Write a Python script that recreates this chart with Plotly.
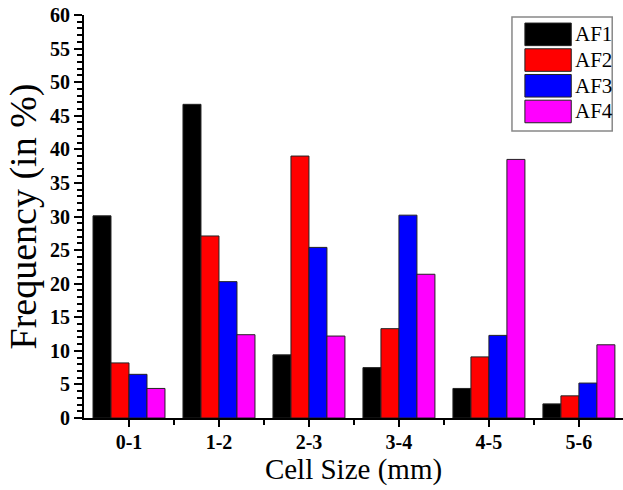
import plotly.graph_objects as go

categories = ["0-1", "1-2", "2-3", "3-4", "4-5", "5-6"]
series_names = ["AF1", "AF2", "AF3", "AF4"]
af1 = [30.1, 46.7, 9.4, 7.5, 4.4, 2.1]
af2 = [8.2, 27.1, 39.0, 13.3, 9.1, 3.3]
af3 = [6.5, 20.3, 25.4, 30.2, 12.3, 5.2]
af4 = [4.4, 12.4, 12.2, 21.4, 38.5, 10.9]
colors = ["#000000", "#ff0000", "#0000ff", "#ff00ff"]
y_ticks = list(range(0, 61, 5))

xpos = list(range(len(categories)))
fig = go.Figure()
for name, vals, col in zip(series_names, [af1, af2, af3, af4], colors):
    fig.add_trace(go.Bar(x=xpos, y=vals, name=name, marker=dict(color=col, line=dict(color="#222222", width=1)),
                         showlegend=False))

font_family = "Liberation Serif, Times New Roman, serif"
fig.update_layout(
    width=623, height=490,
    margin=dict(l=84, r=0, t=15, b=72),
    paper_bgcolor="white", plot_bgcolor="white",
    barmode="group", bargap=0.2, bargroupgap=0,
    font=dict(family=font_family, color="black"),
    xaxis=dict(
        range=[-0.5, 5.49], tickmode="array", tickvals=xpos, ticktext=["<b>%s</b>" % c for c in categories],
        showline=True, linecolor="black", linewidth=2, ticks="outside", ticklen=7, tickwidth=2,
        tickcolor="black", showgrid=False, zeroline=False, ticklabelstandoff=-2,
        tickfont=dict(family=font_family, size=20, color="black"),
        minor=dict(tickvals=[i + 0.5 for i in xpos[:-1]], ticks="outside", ticklen=5, tickwidth=2, tickcolor="black", showgrid=False),
        title=dict(text="Cell Size (mm)", font=dict(family=font_family, size=29, color="black"), standoff=4),
    ),
    yaxis=dict(
        range=[0, 60], tickmode="array", tickvals=y_ticks, ticktext=["<b>%d</b>" % t for t in y_ticks],
        showline=True, linecolor="black", linewidth=2, ticks="outside", ticklen=8, tickwidth=2,
        tickcolor="black", showgrid=False, zeroline=False,
        tickfont=dict(family=font_family, size=20, color="black"),
        minor=dict(dtick=1, ticks="outside", ticklen=5, tickwidth=1.5, tickcolor="black", showgrid=False),
        title=dict(text="Frequency (in %)", font=dict(family=font_family, size=38, color="black"), standoff=2),
    ),
)

# custom legend (box with large swatches)
fig.add_shape(type="rect", xref="paper", yref="paper", x0=0.794, x1=0.98, y0=0.712, y1=0.995,
              line=dict(color="#888888", width=1.5), fillcolor="white")
for i, (name, col) in enumerate(zip(series_names, colors)):
    top = 0.98 - i * 0.0638
    fig.add_shape(type="rect", xref="paper", yref="paper", x0=0.818, x1=0.904, y0=top - 0.056, y1=top,
                  line=dict(color="#222222", width=1), fillcolor=col)
    fig.add_annotation(xref="paper", yref="paper", x=0.907, y=top - 0.028, text=name, showarrow=False,
                       xanchor="left", yanchor="middle", font=dict(family=font_family, size=21, color="black"))

fig.write_html("out.html", config={"displayModeBar": False},
               post_script="document.body.style.margin='0';document.body.style.padding='0';")
